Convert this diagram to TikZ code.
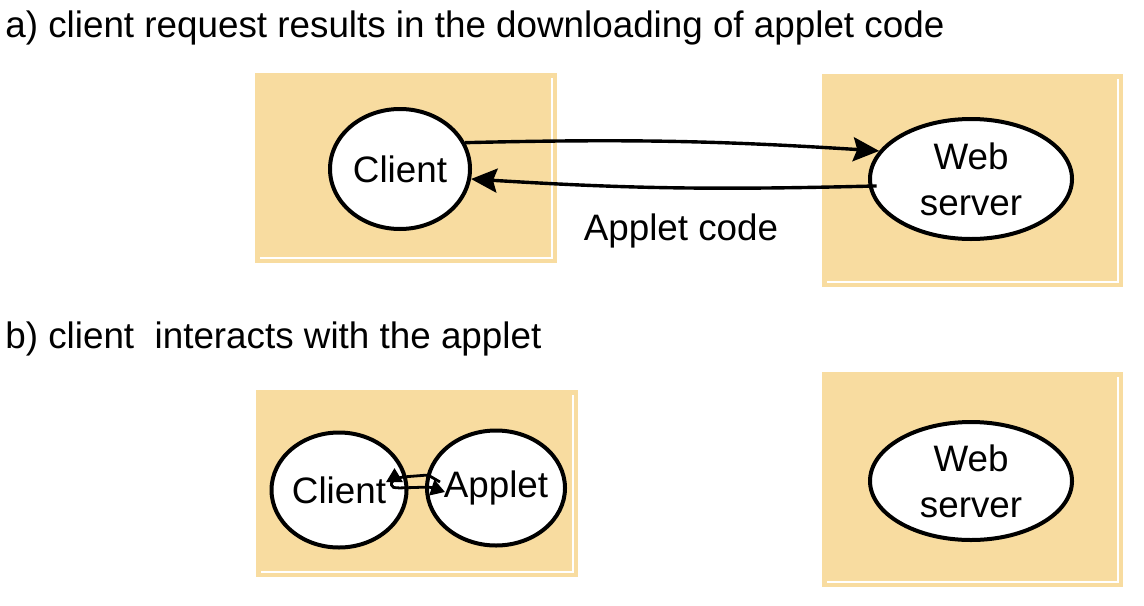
\documentclass[tikz,border=0pt]{standalone}
\usepackage{fontspec}
\setmainfont{Liberation Sans}
\usetikzlibrary{calc,arrows.meta,shapes.geometric}
\definecolor{panelc}{HTML}{F8DCA0}
\tikzset{
  ar/.style={-{Stealth[length=13pt,width=12pt,inset=2pt]},line width=1.7pt,black},
  sar/.style={-{Triangle[length=7pt,width=8pt]},line width=1.4pt,rounded corners=1pt},
  ell/.style={ellipse,draw,line width=2pt,fill=white,inner sep=0pt,align=center,font=\fontsize{18.4}{23}\selectfont},
  ttl/.style={anchor=base west,inner sep=0pt,font=\fontsize{18.4}{23}\selectfont}
}
\begin{document}
\begin{tikzpicture}[x=0.5pt,y=-0.5pt]
\useasboundingbox (0,0) rectangle (1144,605);
% panels
\foreach \xa/\ya/\xb/\yb in {255/73/557/263,822/74/1123/287,256/390/578/577,822/372/1123/587}{
  \fill[panelc] (\xa,\ya) rectangle (\xb,\yb);
  \draw[white,line width=1pt] (\xa+5,\yb-5) -- (\xb-5,\yb-5) -- (\xb-5,\ya+5);
}
% a)
\node[ttl] (ta) at (5,37) {a) client request results in the downloading of applet code};
\node[ell,minimum width=70pt,minimum height=60pt] (cla) at (400,169) {Client};
\node[ell,minimum width=101pt,minimum height=60pt] (wsa) at (971,179) {Web\\server};
\node[inner sep=0pt,anchor=base,font=\fontsize{18.4}{23}\selectfont] (code) at (681,240) {Applet code};
\draw[ar] (cla.22) to[bend left=2.5] (wsa.163);
\draw[ar,shorten <=-4pt] (wsa.184) to[bend left=2.5] (cla.-8);
% b)
\node[ttl] (tb) at (5,348) {b) client\ \ interacts with the applet};
\node[ell,minimum width=67.5pt,minimum height=57.5pt] (clb) at (339,490) {Client};
\node[ell,minimum width=69pt,minimum height=57.5pt,inner xsep=-4pt] (apb) at (496,488) {Applet};
\node[ell,minimum width=101pt,minimum height=59pt] (wsb) at (971,481) {Web\\server};
\draw[sar] ($(apb.west)+(15,-6)$) -- ($(apb.west)+(3,-13)$) -- ($(clb.east)+(-6,-13)$)
  -- ($(clb.east)+(-14,-11)$) -- ($(clb.east)+(-14,-22)$);
\draw[sar] ($(clb.east)+(-8,-12)$) -- ($(clb.east)+(-17,-9)$) -- ($(clb.east)+(-17,-3)$)
  -- ($(clb.east)+(-11,-2)$) -- ($(apb.west)+(5,-1)$) -- ($(apb.west)+(20,4)$);
\end{tikzpicture}
\end{document}
